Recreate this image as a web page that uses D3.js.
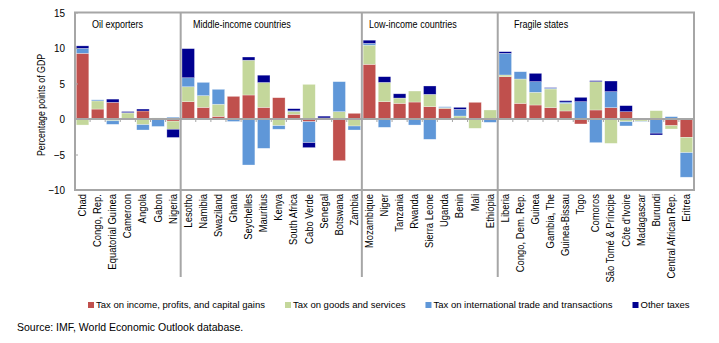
<!DOCTYPE html>
<html>
<head>
<meta charset="utf-8">
<script src="https://cdn.jsdelivr.net/npm/d3@7"></script>
<style>
  body { margin: 0; background: #fff; }
  text { font-family: "Liberation Sans", Arial, sans-serif; fill: #000; }
</style>
</head>
<body>
<svg id="chart" width="719" height="343"></svg>
<script>
// Countries, in the order they are plotted
const countries = [
  "Chad", "Congo, Rep.", "Equatorial Guinea", "Cameroon", "Angola", "Gabon", "Nigeria",
  "Lesotho", "Namibia", "Swaziland", "Ghana", "Seychelles", "Mauritius", "Kenya", "South Africa",
  "Cabo Verde", "Senegal", "Botswana", "Zambia",
  "Mozambique", "Niger", "Tanzania", "Rwanda", "Sierra Leone", "Uganda", "Benin", "Mali", "Ethiopia",
  "Liberia", "Congo, Dem. Rep.", "Guinea", "Gambia, The", "Guinea-Bissau", "Togo", "Comoros",
  "São Tomé & Príncipe", "Côte d'Ivoire", "Madagascar", "Burundi", "Central African Rep.", "Eritrea"
];

const groupNames = ["Oil exporters", "Middle-income countries", "Low-income countries", "Fragile states"];
const groupSizes = [7, 12, 9, 13];

// Change in revenue, percentage points of GDP
const income = [
  9.25, 1.4, 2.35, 0, 1.13, 0, -0.3,
  2.44, 1.64, 0.38, 3.19, 3.38, 1.64, 3.0, 0.65, -0.38, 0, -5.87, 0.8,
  7.7, 2.44, 2.2, 2.39, 1.74, 1.5, 0, 2.35, 0,
  5.96, 2.2, 1.97, 1.6, 1.13, -0.7, 1.27, 1.6, 1.03, 0, 0, -0.94, -2.58
];
const goods = [
  -0.85, 1.15, -0.25, 0.85, -0.8, 0.15, -1.15,
  2.1, 1.65, 1.7, 0, 4.9, 3.5, -0.94, 0.4, 4.88, 0, 1.03, -0.99,
  2.7, 2.72, 0.75, 1.55, 1.73, 0.1, 0.42, -1.31, 1.27,
  0.24, 3.43, 1.79, 2.63, 1.07, 0, 3.99, -3.43, -0.38, -0.3, 1.17, -0.47, -2.16
];
const trade = [
  0.7, 0.15, -0.5, 0.05, -0.75, -1.05, 0.25,
  1.27, 1.87, 2.1, -0.35, -6.48, -4.13, -0.5, 0.1, -2.95, 0.15, 4.23, -0.56,
  0.25, -1.17, 0, -0.85, -2.86, 0.13, 0.94, 0, -0.47,
  3.05, 1.03, 1.5, 0.12, 0.19, 2.44, -3.33, 2.25, -0.6, -0.05, -2.0, 0.33, -3.46
];
const other = [
  0.35, 0, 0.45, 0.15, 0.27, 0, -1.15,
  4.1, 0, 0, 0, 0.45, 1.03, 0, 0.3, -0.7, 0.25, 0, 0,
  0.45, 0.8, 0.6, 0, 1.18, 0, 0.28, 0, 0,
  0.23, 0, 1.17, 0.07, 0.19, 0.61, 0.14, 1.5, 0.85, 0, -0.25, 0, 0
];

const seriesNames = [
  "Tax on income, profits, and capital gains",
  "Tax on goods and services",
  "Tax on international trade and transactions",
  "Other taxes"
];
const yTicks = [15, 10, 5, 0, -5, -10];

const keys = ["income", "goods", "trade", "other"];
const colors = { income: "#c0504d", goods: "#c4d79b", trade: "#5f97d8", other: "#000090" };

const rows = countries.map((c, i) => ({
  country: c, income: income[i], goods: goods[i], trade: trade[i], other: other[i]
}));

// squeeze a text selection horizontally, like a narrow face
function condense(sel, k) {
  sel.each(function () {
    const w = this.getComputedTextLength();
    d3.select(this).attr("textLength", w * k).attr("lengthAdjust", "spacingAndGlyphs");
  });
}

const svg = d3.select("#chart");
const plotLeft = 75, plotRight = 694, plotTop = 12.5, plotBottom = 190;
const titleX = [92, 193, 369, 514];

const x = d3.scaleBand()
  .domain(countries)
  .range([plotLeft, plotRight])
  .paddingInner(0.17)
  .paddingOuter(0.085);

const y = d3.scaleLinear().domain([-10, 15]).range([plotBottom, plotTop]);

const stacked = d3.stack().keys(keys).offset(d3.stackOffsetDiverging)(rows);

// bars
svg.append("g")
  .selectAll("g")
  .data(stacked)
  .join("g")
    .attr("fill", d => colors[d.key])
  .selectAll("rect")
  .data(d => d)
  .join("rect")
    .attr("x", d => x(d.data.country))
    .attr("width", x.bandwidth())
    .attr("y", d => y(Math.max(d[0], d[1])))
    .attr("height", d => Math.abs(y(d[0]) - y(d[1])))
    .attr("stroke", "#fff")
    .attr("stroke-opacity", 0.5)
    .attr("stroke-width", 0.6);

const gray = "#a6a6a6";
const step = x.step();
const edge = i => plotLeft + step * i;

// zero line and its small ticks at category boundaries
svg.append("line")
  .attr("x1", plotLeft).attr("x2", plotRight)
  .attr("y1", y(0)).attr("y2", y(0))
  .attr("stroke", gray).attr("stroke-width", 2);

svg.append("g")
  .selectAll("line")
  .data(d3.range(1, countries.length))
  .join("line")
    .attr("x1", i => edge(i)).attr("x2", i => edge(i))
    .attr("y1", y(0)).attr("y2", y(0) + 3)
    .attr("stroke", gray).attr("stroke-width", 1);

// plot frame
svg.append("rect")
  .attr("x", plotLeft).attr("y", plotTop)
  .attr("width", plotRight - plotLeft).attr("height", plotBottom - plotTop)
  .attr("fill", "none")
  .attr("stroke", gray).attr("stroke-width", 2);

// group dividers, running down through the labels
const starts = groupSizes.map((n, i) => d3.sum(groupSizes.slice(0, i)));
svg.append("g")
  .selectAll("line")
  .data(starts.slice(1))
  .join("line")
    .attr("x1", s => edge(s)).attr("x2", s => edge(s))
    .attr("y1", plotTop).attr("y2", 277)
    .attr("stroke", gray).attr("stroke-width", 2);

// group titles
svg.append("g")
  .selectAll("text")
  .data(groupNames)
  .join("text")
    .attr("x", (d, i) => titleX[i])
    .attr("y", 27.5)
    .attr("font-size", 11)
    .text(d => d)
    .call(condense, 0.82);

// y axis
const yAxis = d3.axisLeft(y).tickValues(yTicks).tickSize(-3).tickPadding(10).tickFormat(d3.format("d"));
svg.append("g")
  .attr("transform", `translate(${plotLeft},0)`)
  .call(yAxis)
  .call(g => g.select(".domain").remove())
  .call(g => g.selectAll("line").attr("stroke", gray))
  .call(g => g.selectAll("text")
    .attr("font-family", "'Liberation Sans', Arial, sans-serif")
    .attr("font-size", 11).attr("fill", "#000")
    .call(condense, 0.9));

svg.append("text")
  .attr("transform", "translate(45,105) rotate(-90)")
  .attr("text-anchor", "middle")
  .attr("font-size", 11)
  .text("Percentage points of GDP")
  .call(condense, 0.8);

// country labels
svg.append("g")
  .selectAll("text")
  .data(countries)
  .join("text")
    .attr("transform", d => `translate(${x(d) + x.bandwidth() / 2 + 3.5},${plotBottom + 4}) rotate(-90)`)
    .attr("text-anchor", "end")
    .attr("font-size", 10.5)
    .text(d => d)
    .call(condense, 0.9);

// legend
const legend = svg.append("g").attr("transform", "translate(88,308)");
let lx = 0;
seriesNames.forEach((name, i) => {
  legend.append("rect")
    .attr("x", lx).attr("y", -6)
    .attr("width", 6).attr("height", 6)
    .attr("fill", colors[keys[i]]);
  const t = legend.append("text")
    .attr("x", lx + 8).attr("y", 0)
    .attr("font-size", 9.5)
    .text(name);
  lx += 8 + t.node().getComputedTextLength() + 20;
});

svg.append("text")
  .attr("x", 17).attr("y", 331)
  .attr("font-size", 10.5)
  .text("Source: IMF, World Economic Outlook database.");
</script>
</body>
</html>
